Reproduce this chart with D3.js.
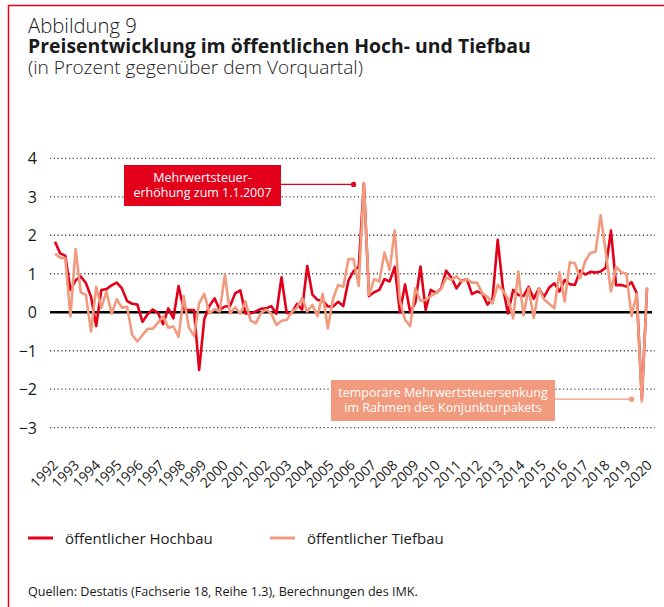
<!DOCTYPE html>
<html>
<head>
<meta charset="utf-8">
<script src="https://cdn.jsdelivr.net/npm/d3@7"></script>
<style>
  body { margin: 0; background: #fff; }
  svg { display: block; font-family: "Open Sans", "Noto Sans", sans-serif; }
</style>
</head>
<body>
<div id="chart"></div>
<script>
// quarterly change in %, 1992 Q1 .. 2020 Q4
var years = d3.range(1992, 2021);

var hochbau = [
  1.83, 1.53, 1.47, 0.58, 0.83, 0.93, 0.76, 0.40, -0.36, 0.58,
  0.60, 0.70, 0.77, 0.62, 0.29, 0.22, 0.20, -0.25, -0.05, 0.07,
  -0.02, -0.31, 0.10, -0.16, 0.68, 0.08, 0.06, 0.06, -1.50, -0.18,
  0.17, 0.36, 0.06, 0.15, 0.16, 0.49, 0.57, -0.03, -0.03, 0.02,
  0.09, 0.10, 0.16, -0.04, 0.91, -0.02, -0.02, 0.22, 0.07, 1.20,
  0.46, 0.32, 0.30, 0.15, 0.15, 0.27, 0.16, 0.82, 1.07, 1.18,
  3.35, 0.42, 0.52, 0.58, 0.86, 0.80, 1.18, 0.00, 0.72, 0.00,
  0.25, 1.19, 0.06, 0.58, 0.50, 0.62, 1.08, 0.90, 0.62, 0.82,
  0.86, 0.47, 0.54, 0.49, 0.20, 0.36, 1.88, 0.64, -0.03, 0.58,
  0.45, 0.42, 0.66, 0.35, 0.62, 0.40, 0.64, 0.75, 0.54, 0.84,
  0.73, 0.71, 1.08, 0.98, 1.05, 1.03, 1.06, 1.16, 2.12, 0.70,
  0.71, 0.67, 0.78, 0.50, -2.25, 0.62
];

var tiefbau = [
  1.52, 1.42, 1.40, -0.11, 1.64, 0.52, 0.45, -0.50, 0.66, 0.12,
  0.54, -0.04, 0.34, 0.12, 0.14, -0.59, -0.76, -0.59, -0.43, -0.43,
  -0.27, -0.11, -0.40, -0.37, -0.64, 0.42, -0.40, -0.61, 0.23, 0.48,
  -0.03, 0.08, 0.02, 0.98, -0.03, 0.13, -0.04, 0.28, -0.22, -0.29,
  -0.02, 0.07, -0.03, -0.33, -0.22, -0.20, 0.00, 0.12, 0.37, 0.02,
  0.19, -0.10, 0.48, -0.42, 0.34, 0.71, 0.66, 1.38, 1.38, 0.68,
  3.35, 0.45, 0.86, 0.80, 1.55, 1.10, 2.12, 0.30, -0.20, -0.36,
  0.62, 0.30, 0.32, 0.42, 0.50, 0.60, 0.90, 0.84, 0.93, 0.80,
  0.86, 0.77, 0.77, 0.49, 0.40, 0.23, 0.71, 0.56, 0.36, -0.16,
  1.06, -0.08, 0.62, -0.15, 0.62, 0.33, 0.22, 0.10, 1.04, 0.28,
  1.30, 1.27, 0.88, 1.33, 1.54, 1.57, 2.52, 1.55, 0.54, 1.18,
  1.04, 1.00, -0.10, 0.48, -2.32, 0.65
];

var yTicks = [4, 3, 2, 1, 0, -1, -2, -3];

// category labels "1992 Q1" ... built from the years
var quarters = [];
years.forEach(function (y) {
  [1, 2, 3, 4].forEach(function (q) { quarters.push(y + " Q" + q); });
});

var RED = "#e2001a";
var SALMON = "#f29a7e";

var width = 664, height = 607;
var svg = d3.select("#chart").append("svg")
  .attr("width", width)
  .attr("height", height);

// frame (top + left)
svg.append("path")
  .attr("d", "M8.5,607 L8.5,5.5 L664,5.5")
  .attr("fill", "none")
  .attr("stroke", RED)
  .attr("stroke-width", 1.5);

// titles, font size fitted to the width they take in the original
function fitText(sel, target) {
  var size = parseFloat(sel.style("font-size"));
  var len = sel.node().getComputedTextLength();
  if (len > 0) sel.style("font-size", (size * target / len).toFixed(2) + "px");
}

var t1 = svg.append("text").attr("x", 28).attr("y", 33)
  .style("font-size", "19px").style("font-weight", 300).style("fill", "#1a1a1a")
  .text("Abbildung 9");
var t2 = svg.append("text").attr("x", 28).attr("y", 53)
  .style("font-size", "18px").style("font-weight", "bold").style("fill", "#1a1a1a")
  .text("Preisentwicklung im öffentlichen Hoch- und Tiefbau");
var t3 = svg.append("text").attr("x", 28).attr("y", 74)
  .style("font-size", "18px").style("font-weight", 300).style("fill", "#1a1a1a")
  .text("(in Prozent gegenüber dem Vorquartal)");
fitText(t1, 109);
fitText(t2, 503);
fitText(t3, 335);

var x = d3.scalePoint().domain(quarters.slice(0, hochbau.length)).range([55, 647]);
var y = d3.scaleLinear().domain([-3, 4]).range([427.7, 158.3]);
// year labels are spread evenly over the data span
var xYear = d3.scalePoint().domain(years).range([57, 651]);

// grid
svg.append("g").selectAll("line")
  .data(yTicks.filter(function (d) { return d !== 0; }))
  .enter().append("line")
  .attr("x1", 50).attr("x2", 655)
  .attr("y1", function (d) { return y(d); })
  .attr("y2", function (d) { return y(d); })
  .attr("stroke", "#444")
  .attr("stroke-width", 1.3)
  .attr("stroke-dasharray", "1.2,2.6");

svg.append("line")
  .attr("x1", 50).attr("x2", 652)
  .attr("y1", y(0)).attr("y2", y(0))
  .attr("stroke", "#000")
  .attr("stroke-width", 2.6);

// y labels
svg.append("g").selectAll("text")
  .data(yTicks)
  .enter().append("text")
  .attr("x", 37)
  .attr("y", function (d) { return y(d) + 6; })
  .attr("text-anchor", "end")
  .style("font-size", "16px")
  .style("fill", "#1a1a1a")
  .text(function (d) { return d < 0 ? "\u2212" + Math.abs(d) : d; });

// x labels, rotated
svg.append("g").selectAll("text")
  .data(years)
  .enter().append("text")
  .attr("transform", function (d) {
    return "translate(" + (xYear(d) + 2) + ",466) rotate(-45)";
  })
  .attr("text-anchor", "end")
  .style("font-size", "14px")
  .style("fill", "#1a1a1a")
  .text(function (d) { return d; });

var line = d3.line()
  .x(function (d, i) { return x(quarters[i]); })
  .y(function (d) { return y(d); });

svg.append("path")
  .datum(hochbau)
  .attr("d", line)
  .attr("fill", "none")
  .attr("stroke", RED)
  .attr("stroke-width", 2.6)
  .attr("stroke-linejoin", "round");

svg.append("path")
  .datum(tiefbau)
  .attr("d", line)
  .attr("fill", "none")
  .attr("stroke", SALMON)
  .attr("stroke-width", 2.6)
  .attr("stroke-linejoin", "round");

// annotation 1: VAT increase 2007
var ax1 = x(quarters[58]), ay1 = y(3.32);
svg.append("rect").attr("x", 124).attr("y", 165).attr("width", 157).attr("height", 41)
  .attr("fill", RED);
svg.append("line").attr("x1", 281).attr("x2", ax1).attr("y1", ay1).attr("y2", ay1)
  .attr("stroke", RED).attr("stroke-width", 1.3);
svg.append("circle").attr("cx", ax1).attr("cy", ay1).attr("r", 2.6).attr("fill", RED);
svg.append("text").attr("x", 202.5).attr("y", 181.5).attr("text-anchor", "middle")
  .style("font-size", "12.5px").style("fill", "#fff").text("Mehrwertsteuer-");
svg.append("text").attr("x", 202.5).attr("y", 197).attr("text-anchor", "middle")
  .style("font-size", "12.5px").style("fill", "#fff").text("erhöhung zum 1.1.2007");

// annotation 2: temporary VAT cut 2020
var ax2 = x(quarters[112]), ay2 = y(-2.26);
svg.append("rect").attr("x", 331).attr("y", 380).attr("width", 224).attr("height", 41)
  .attr("fill", SALMON);
svg.append("line").attr("x1", 555).attr("x2", ax2).attr("y1", ay2).attr("y2", ay2)
  .attr("stroke", SALMON).attr("stroke-width", 1.3);
svg.append("circle").attr("cx", ax2).attr("cy", ay2).attr("r", 2.6).attr("fill", SALMON);
svg.append("text").attr("x", 443).attr("y", 396.5).attr("text-anchor", "middle")
  .style("font-size", "12.5px").style("fill", "#fff").text("temporäre Mehrwertsteuersenkung");
svg.append("text").attr("x", 443).attr("y", 412).attr("text-anchor", "middle")
  .style("font-size", "12.5px").style("fill", "#fff").text("im Rahmen des Konjunkturpakets");

// legend
var legend = [
  { name: "öffentlicher Hochbau", color: RED, x: 28 },
  { name: "öffentlicher Tiefbau", color: SALMON, x: 270 }
];
var lg = svg.append("g").selectAll("g").data(legend).enter().append("g");
lg.append("line")
  .attr("x1", function (d) { return d.x; })
  .attr("x2", function (d) { return d.x + 25; })
  .attr("y1", 538).attr("y2", 538)
  .attr("stroke", function (d) { return d.color; })
  .attr("stroke-width", 3);
lg.append("text")
  .attr("x", function (d) { return d.x + 37; })
  .attr("y", 543.5)
  .style("font-size", "15px")
  .style("fill", "#1a1a1a")
  .text(function (d) { return d.name; });

// source
svg.append("text").attr("x", 28).attr("y", 596)
  .style("font-size", "12.6px").style("fill", "#1a1a1a")
  .text("Quellen: Destatis (Fachserie 18, Reihe 1.3), Berechnungen des IMK.");
</script>
</body>
</html>
